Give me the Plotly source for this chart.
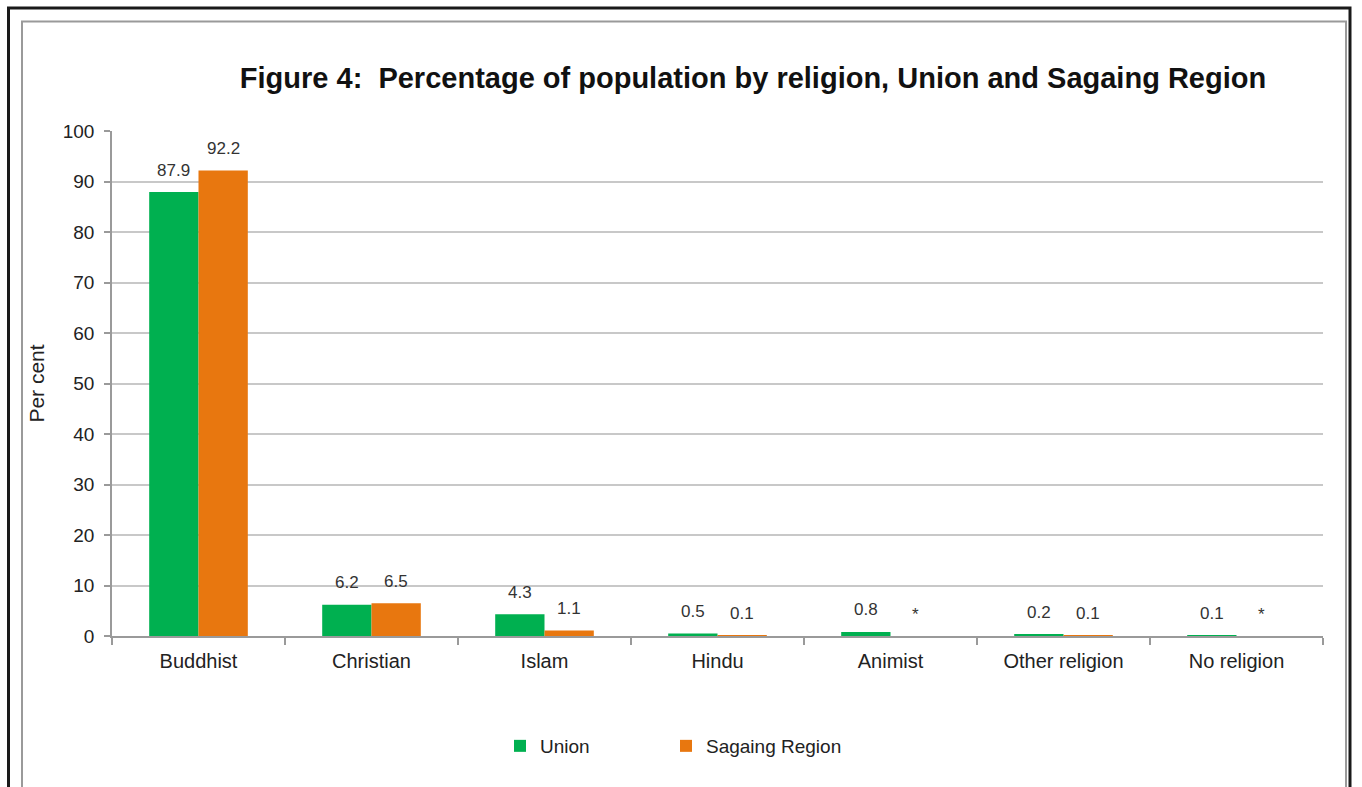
import plotly.graph_objects as go

categories = ["Buddhist", "Christian", "Islam", "Hindu", "Animist", "Other religion", "No religion"]
union_vals = [87.9, 6.2, 4.3, 0.5, 0.8, 0.2, 0.1]
sagaing_vals = [92.2, 6.5, 1.1, 0.1, None, 0.1, None]
union_labels = ["87.9", "6.2", "4.3", "0.5", "0.8", "0.2", "0.1"]
sagaing_labels = ["92.2", "6.5", "1.1", "0.1", "*", "0.1", "*"]
y_ticks = [0, 10, 20, 30, 40, 50, 60, 70, 80, 90, 100]

GREEN = "#00B050"
ORANGE = "#E8770F"
FONT = "Liberation Sans, Arial, sans-serif"

W, H = 1362, 787
ML, MR, MT, MB = 112, 39, 131, 151
PW, PH = W - ML - MR, H - MT - MB
BARGAP = 0.43

fig = go.Figure()
fig.add_trace(go.Bar(name="Union", x=categories, y=union_vals, legend="legend", showlegend=True,
                     marker=dict(color=GREEN, line=dict(width=0))))
fig.add_trace(go.Bar(name="Sagaing Region", x=categories, y=sagaing_vals, legend="legend2", showlegend=True,
                     marker=dict(color=ORANGE, line=dict(width=0))))

# data labels
bw = (1 - BARGAP) / 2
for i, cat in enumerate(categories):
    for vals, labs, off in ((union_vals, union_labels, -bw / 2), (sagaing_vals, sagaing_labels, bw / 2)):
        v = vals[i] if vals[i] is not None else 0
        fig.add_annotation(x=i + off, y=v, xref="x", yref="y", text=labs[i], showarrow=False,
                           yshift=22, font=dict(family=FONT, size=17, color="#333333"))

def px_x(p):
    return (p - ML) / PW

def px_y(p):
    return (H - MB - p) / PH

# outer black border and inner grey border
fig.add_shape(type="rect", xref="paper", yref="paper", x0=px_x(8.5), x1=px_x(1350), y0=px_y(800), y1=px_y(8),
              line=dict(color="#1a1a1a", width=3), fillcolor="rgba(0,0,0,0)", layer="below")
fig.add_shape(type="rect", xref="paper", yref="paper", x0=px_x(22), x1=px_x(1346), y0=px_y(800), y1=px_y(21.5),
              line=dict(color="#9a9a9a", width=2), fillcolor="rgba(0,0,0,0)", layer="below")

legend_common = dict(orientation="h", xanchor="left", yanchor="middle", y=px_y(746), visible=True,
                     font=dict(family=FONT, size=19, color="#222222"), bgcolor="rgba(0,0,0,0)")

fig.update_layout(
    width=W, height=H, showlegend=True,
    margin=dict(l=ML, r=MR, t=MT, b=MB, pad=0),
    paper_bgcolor="white", plot_bgcolor="white",
    barmode="group", bargap=BARGAP, bargroupgap=0,
    title=dict(text="Figure 4:  Percentage of population by religion, Union and Sagaing Region",
               x=(753) / W, xanchor="center", y=1 - 78 / H, yanchor="middle",
               font=dict(family=FONT, size=29, color="#111111", weight="bold")),
    font=dict(family=FONT, color="#222222"),
    legend=dict(x=px_x(500), **legend_common),
    legend2=dict(x=px_x(666), **legend_common),
    xaxis=dict(showgrid=False, showline=True, linecolor="#9a9a9a", linewidth=1.5,
               ticks="outside", ticklen=7, tickcolor="#9a9a9a", tickwidth=1.5, tickson="boundaries",
               tickfont=dict(family=FONT, size=20, color="#222222"), ticklabelstandoff=6),
    yaxis=dict(range=[0, 100], tickvals=y_ticks, showgrid=True, gridcolor="#c8c8c8", gridwidth=1.5,
               showline=True, linecolor="#9a9a9a", linewidth=1.5, zeroline=False,
               ticks="outside", ticklen=6, tickcolor="#9a9a9a", tickwidth=1.5,
               tickfont=dict(family=FONT, size=19, color="#222222"), ticklabelstandoff=6,
               title=dict(text="Per cent", font=dict(family=FONT, size=21, color="#222222"), standoff=12)),
)

fig.write_html("out.html")
